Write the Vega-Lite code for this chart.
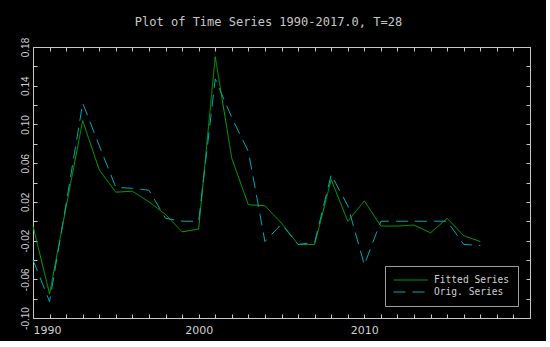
{
  "$schema": "https://vega.github.io/schema/vega-lite/v6.json",
  "width": 497,
  "height": 271,
  "autosize": {"type": "none"},
  "padding": {"left": 33, "top": 47, "right": 16, "bottom": 23},
  "background": "black",
  "title": {
    "text": "Plot of Time Series 1990-2017.0, T=28",
    "font": "DejaVu Sans Mono",
    "fontSize": 12,
    "fontWeight": "normal",
    "color": "#c8c8c8",
    "anchor": "middle",
    "offset": 8,
    "dx": -13
  },
  "config": {
    "view": {"stroke": "#c8c8c8", "strokeWidth": 1},
    "axis": {
      "domain": false,
      "grid": false,
      "title": null,
      "tickColor": "#c8c8c8",
      "tickSize": -4,
      "tickWidth": 1,
      "labelColor": "#d0d0d0",
      "labelOverlap": false,
      "labelBound": false
    },
    "legend": {
      "orient": "bottom-right",
      "offset": 12,
      "fillColor": "black",
      "strokeColor": "#a0a0a0",
      "padding": 8,
      "cornerRadius": 0,
      "labelFont": "DejaVu Sans Mono",
      "labelFontSize": 9.6,
      "labelColor": "#d0d0d0",
      "symbolType": "stroke",
      "symbolSize": 1156,
      "symbolStrokeWidth": 1,
      "clipHeight": 12,
      "labelOffset": 6,
      "rowPadding": 0
    }
  },
  "data": {
    "values": [
      {"year": 1990, "series": "Fitted Series", "value": -0.005},
      {"year": 1991, "series": "Fitted Series", "value": -0.075},
      {"year": 1992, "series": "Fitted Series", "value": 0.015},
      {"year": 1993, "series": "Fitted Series", "value": 0.104},
      {"year": 1994, "series": "Fitted Series", "value": 0.053},
      {"year": 1995, "series": "Fitted Series", "value": 0.030},
      {"year": 1996, "series": "Fitted Series", "value": 0.031},
      {"year": 1997, "series": "Fitted Series", "value": 0.020},
      {"year": 1998, "series": "Fitted Series", "value": 0.007},
      {"year": 1999, "series": "Fitted Series", "value": -0.011},
      {"year": 2000, "series": "Fitted Series", "value": -0.008},
      {"year": 2001, "series": "Fitted Series", "value": 0.170},
      {"year": 2002, "series": "Fitted Series", "value": 0.065},
      {"year": 2003, "series": "Fitted Series", "value": 0.017},
      {"year": 2004, "series": "Fitted Series", "value": 0.016},
      {"year": 2005, "series": "Fitted Series", "value": -0.002},
      {"year": 2006, "series": "Fitted Series", "value": -0.024},
      {"year": 2007, "series": "Fitted Series", "value": -0.024},
      {"year": 2008, "series": "Fitted Series", "value": 0.043},
      {"year": 2009, "series": "Fitted Series", "value": 0.000},
      {"year": 2010, "series": "Fitted Series", "value": 0.021},
      {"year": 2011, "series": "Fitted Series", "value": -0.005},
      {"year": 2012, "series": "Fitted Series", "value": -0.005},
      {"year": 2013, "series": "Fitted Series", "value": -0.004},
      {"year": 2014, "series": "Fitted Series", "value": -0.012},
      {"year": 2015, "series": "Fitted Series", "value": 0.003},
      {"year": 2016, "series": "Fitted Series", "value": -0.015},
      {"year": 2017, "series": "Fitted Series", "value": -0.021},
      {"year": 1990, "series": "Orig. Series", "value": -0.040},
      {"year": 1991, "series": "Orig. Series", "value": -0.083},
      {"year": 1992, "series": "Orig. Series", "value": 0.018},
      {"year": 1993, "series": "Orig. Series", "value": 0.122},
      {"year": 1994, "series": "Orig. Series", "value": 0.078},
      {"year": 1995, "series": "Orig. Series", "value": 0.035},
      {"year": 1996, "series": "Orig. Series", "value": 0.034},
      {"year": 1997, "series": "Orig. Series", "value": 0.032},
      {"year": 1998, "series": "Orig. Series", "value": 0.003},
      {"year": 1999, "series": "Orig. Series", "value": 0.000},
      {"year": 2000, "series": "Orig. Series", "value": 0.000},
      {"year": 2001, "series": "Orig. Series", "value": 0.147},
      {"year": 2002, "series": "Orig. Series", "value": 0.107},
      {"year": 2003, "series": "Orig. Series", "value": 0.072},
      {"year": 2004, "series": "Orig. Series", "value": -0.021},
      {"year": 2005, "series": "Orig. Series", "value": -0.003},
      {"year": 2006, "series": "Orig. Series", "value": -0.024},
      {"year": 2007, "series": "Orig. Series", "value": -0.022},
      {"year": 2008, "series": "Orig. Series", "value": 0.048},
      {"year": 2009, "series": "Orig. Series", "value": 0.016},
      {"year": 2010, "series": "Orig. Series", "value": -0.045},
      {"year": 2011, "series": "Orig. Series", "value": 0.000},
      {"year": 2012, "series": "Orig. Series", "value": 0.000},
      {"year": 2013, "series": "Orig. Series", "value": 0.000},
      {"year": 2014, "series": "Orig. Series", "value": 0.000},
      {"year": 2015, "series": "Orig. Series", "value": 0.000},
      {"year": 2016, "series": "Orig. Series", "value": -0.024},
      {"year": 2017, "series": "Orig. Series", "value": -0.025}
    ]
  },
  "layer": [
    {
      "mark": {"type": "line", "strokeWidth": 1, "interpolate": "linear"},
      "encoding": {
        "x": {
          "field": "year",
          "type": "quantitative",
          "scale": {"domain": [1990, 2020], "nice": false, "zero": false},
          "axis": {
            "orient": "bottom",
            "values": [1990,1991,1992,1993,1994,1995,1996,1997,1998,1999,2000,2001,2002,2003,2004,2005,2006,2007,2008,2009,2010,2011,2012,2013,2014,2015,2016,2017,2018,2019,2020],
            "labelExpr": "(datum.value == 1990 || datum.value == 2000 || datum.value == 2010) ? (datum.value + '') : ''",
            "labelFont": "DejaVu Sans",
            "labelFontSize": 11,
            "labelFlush": true,
            "labelPadding": 10
          }
        },
        "y": {
          "field": "value",
          "type": "quantitative",
          "scale": {"domain": [-0.1, 0.18], "nice": false, "zero": false},
          "axis": {
            "orient": "left",
            "values": [-0.10,-0.08,-0.06,-0.04,-0.02,0,0.02,0.04,0.06,0.08,0.10,0.12,0.14,0.16,0.18],
            "labelExpr": "(round((datum.value + 0.1) * 100) % 4 == 0) ? replace(format(datum.value, '.2f'), '\u2212', '-') : ''",
            "labelFont": "Liberation Sans",
            "labelFontSize": 10,
            "labelAngle": 270,
            "labelAlign": "center",
            "labelBaseline": "bottom",
            "labelFlush": false,
            "labelPadding": 7
          }
        },
        "color": {
          "field": "series",
          "type": "nominal",
          "scale": {"domain": ["Fitted Series", "Orig. Series"], "range": ["#00b000", "#00a8b8"]},
          "legend": {"title": null}
        },
        "strokeDash": {
          "field": "series",
          "type": "nominal",
          "scale": {"domain": ["Fitted Series", "Orig. Series"], "range": [[1, 0], [12, 7]]},
          "legend": {"title": null}
        }
      }
    },
    {
      "mark": {"type": "point", "opacity": 0},
      "encoding": {
        "x": {
          "field": "year",
          "type": "quantitative",
          "scale": {"domain": [1990, 2020], "nice": false, "zero": false},
          "axis": {
            "orient": "top",
            "labels": false,
            "values": [1990,1991,1992,1993,1994,1995,1996,1997,1998,1999,2000,2001,2002,2003,2004,2005,2006,2007,2008,2009,2010,2011,2012,2013,2014,2015,2016,2017,2018,2019,2020]
          }
        },
        "y": {
          "field": "value",
          "type": "quantitative",
          "scale": {"domain": [-0.1, 0.18], "nice": false, "zero": false},
          "axis": {
            "orient": "right",
            "labels": false,
            "values": [-0.10,-0.08,-0.06,-0.04,-0.02,0,0.02,0.04,0.06,0.08,0.10,0.12,0.14,0.16,0.18]
          }
        }
      }
    }
  ],
  "resolve": {"axis": {"x": "independent", "y": "independent"}}
}
